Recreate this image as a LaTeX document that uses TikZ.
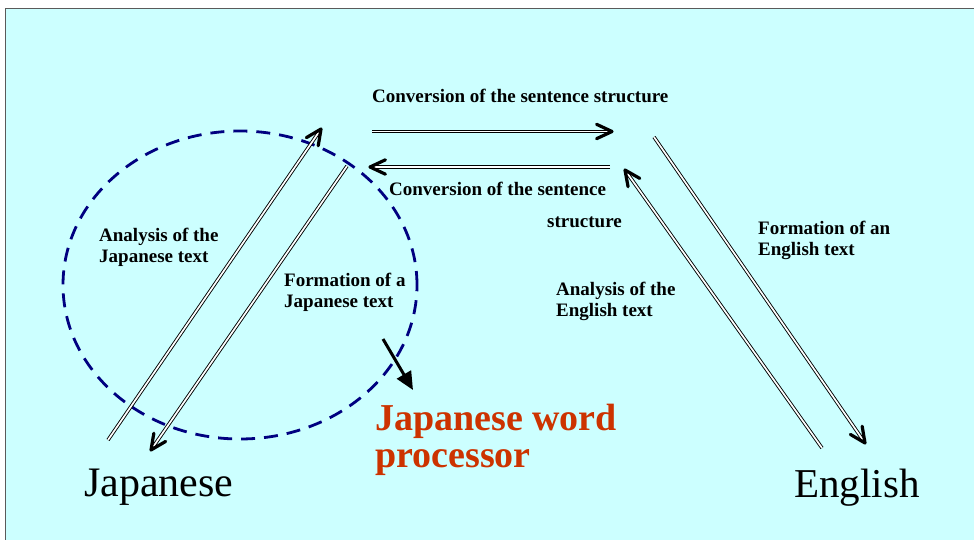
\documentclass[tikz,border=0pt]{standalone}
\usepackage{fontspec}
\setmainfont{Liberation Serif}
\usetikzlibrary{calc,arrows.meta,shapes.geometric}
\definecolor{bgcyan}{HTML}{CCFFFF}
\definecolor{navyc}{HTML}{000080}
\definecolor{orng}{HTML}{CC3300}
\definecolor{frame}{HTML}{5A5A5A}
\newcommand\twol[2]{\begin{tabular}[t]{@{}l@{}}#1\\#2\end{tabular}}
\newcommand\dblarrow[2]{%
  \draw[shaft] (#1) -- ($(#2)!1.5pt!(#1)$);
  \draw[chev] ($(#2)!17pt!25:(#1)$) -- (#2) -- ($(#2)!17pt!-25:(#1)$);}
\begin{document}
\begin{tikzpicture}[x=1pt,y=-1pt,
 shaft/.style={draw=black,line width=0.9pt,double=white,double distance=1.7pt},
 chev/.style={line width=3.2pt,line cap=round,line join=round},
 lbl/.style={font=\fontsize{19}{21}\selectfont\bfseries,inner sep=0pt,anchor=base west},
 big/.style={font=\fontsize{42}{44}\selectfont,inner sep=0pt,anchor=base west},
 wp/.style={font=\fontsize{38}{37.5}\selectfont\bfseries,text=orng,inner sep=0pt,anchor=base west},
]
\useasboundingbox (0,0) rectangle (974,540);
\fill[white] (0,0) rectangle (974,540);
\draw[fill=bgcyan,draw=frame,line width=1.5pt] (5.5,8.5) rectangle (990,560);

\node[draw=navyc, dash pattern=on 14pt off 9pt, line width=2.8pt, ellipse,
      minimum width=354pt, minimum height=308pt, inner sep=0pt] (circ) at (240,285) {};

\coordinate (ajT) at (108,440); \coordinate (ajH) at (321,129);
\coordinate (fjT) at (347,166); \coordinate (fjH) at (151,450);
\coordinate (c1T) at (372,131.5); \coordinate (c1H) at (612,131.5);
\coordinate (c2T) at (610,167); \coordinate (c2H) at (370,167);
\coordinate (feT) at (654,137); \coordinate (feH) at (865,443);
\coordinate (aeT) at (822,448); \coordinate (aeH) at (625,170);
\coordinate (wpT) at (383,339); \coordinate (wpH) at (413,390);

\dblarrow{ajT}{ajH}
\dblarrow{fjT}{fjH}
\dblarrow{c1T}{c1H}
\dblarrow{c2T}{c2H}
\dblarrow{feT}{feH}
\dblarrow{aeT}{aeH}
\draw[line width=3pt,-{Triangle[length=18pt,width=16pt]}] (wpT) -- (wpH);

\node[lbl] (conv1) at (372,102.5) {Conversion of the sentence structure};
\node[lbl] (conv2) at (389,196) {Conversion of the sentence};
\node[lbl] (conv3) at (547,227) {structure};
\node[lbl] (ajL) at (99,241.5) {\twol{Analysis of the}{Japanese text}};
\node[lbl] (fjL) at (284,286.5) {\twol{Formation of a}{Japanese text}};
\node[lbl] (feL) at (758,234) {\twol{Formation of an}{English text}};
\node[lbl] (aeL) at (556,295) {\twol{Analysis of the}{English text}};
\node[big] (jp) at (84,496) {Japanese};
\node[big, font=\fontsize{41}{44}\selectfont] (en) at (794,497) {English};
\node[wp] (wpL) at (375,430) {\twol{Japanese word}{processor}};
\end{tikzpicture}
\end{document}
